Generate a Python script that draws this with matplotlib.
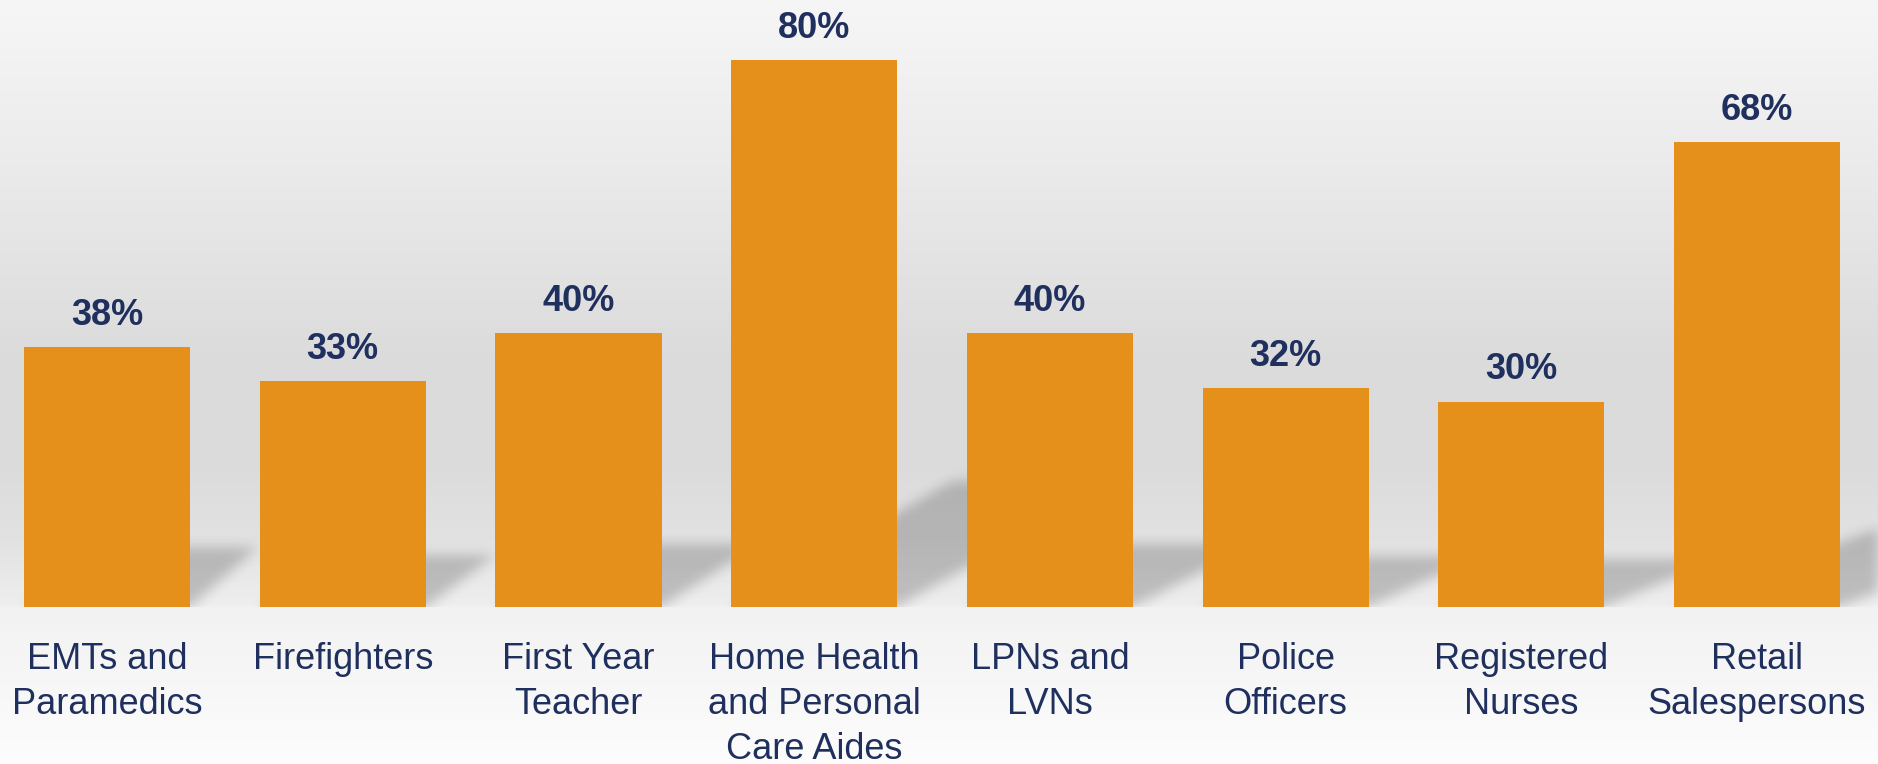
import numpy as np
import matplotlib
matplotlib.use('Agg')
import matplotlib.pyplot as plt


# Data
categories = ['EMTs and\nParamedics', 'Firefighters', 'First Year\nTeacher',
              'Home Health\nand Personal\nCare Aides', 'LPNs and\nLVNs',
              'Police\nOfficers', 'Registered\nNurses', 'Retail\nSalespersons']
values = [38, 33, 40, 80, 40, 32, 30, 68]

BAR = '#E5901A'
NAVY = '#1F2F5E'
W, H = 1878, 764

fig = plt.figure(figsize=(W / 100, H / 100), dpi=100)

# Background: wall gradient + lighter floor
stops_px = [0, 150, 350, 460, 540, 604, 608, 700, 764]
stops_gray = [246, 236, 220, 219, 226, 238, 242, 248, 253]
rows = np.interp(np.arange(H), stops_px, stops_gray) / 255.0
grad = np.repeat(rows[:, None, None], 3, axis=2)
bg = fig.add_axes([0, 0, 1, 1], zorder=-10)
bg.imshow(grad, aspect='auto', extent=[0, 1, 0, 1])
bg.axis('off')

# Main axes
ax = fig.add_axes([0, 0.2055, 1, 0.7876])
ax.patch.set_visible(False)
xlim = (-0.454, 7.513)
ylim = (0, 88)
ax.set_xlim(*xlim)
ax.set_ylim(*ylim)
for s in ax.spines.values():
    s.set_visible(False)
ax.set_yticks([])

x = np.arange(len(values))
width = 0.705

# Soft perspective shadows behind the bars
nx, ny = W, 602
gx = np.linspace(xlim[0], xlim[1], nx)
gy = np.linspace(ylim[0], ylim[1], ny)
XX, YY = np.meshgrid(gx, gy)
mask = np.zeros_like(XX)
px_per_x = W / (xlim[1] - xlim[0])
px_per_y = ny / (ylim[1] - ylim[0])
for i, v in zip(x, values):
    sh = 0.23 * v
    hpx = v * px_per_y
    d = (0.26 + 0.0486 * i) * hpx / px_per_x
    t = np.clip(YY / sh, 0, 1)
    inside = (YY >= 0) & (YY <= sh) & \
        (XX >= i - width / 2 + t * d) & (XX <= i + width / 2 + t * d)
    mask[inside] = 1.0

sig = 6.0
k = np.arange(-20, 21)
kern = np.exp(-k ** 2 / (2 * sig ** 2))
kern /= kern.sum()
mask = np.apply_along_axis(lambda r: np.convolve(r, kern, mode='same'), 1, mask)
mask = np.apply_along_axis(lambda c: np.convolve(c, kern, mode='same'), 0, mask)
shadow = np.zeros((ny, nx, 4))
shadow[..., 3] = mask * 0.2
ax.imshow(shadow, origin='lower', aspect='auto',
          extent=[xlim[0], xlim[1], ylim[0], ylim[1]], zorder=1)

ax.bar(x, values, width=width, color=BAR, zorder=3)

for i, v in zip(x, values):
    ax.annotate(f'{v}%', (i, v), xytext=(0, 23), textcoords='offset points',
                ha='center', va='center', fontsize=26, fontweight='bold',
                color=NAVY, zorder=4,
                family=['Liberation Sans Narrow', 'Liberation Sans', 'DejaVu Sans'])

ax.set_xticks(x)
ax.set_xticklabels(categories, fontsize=26, color=NAVY, linespacing=1.37,
                   family=['Liberation Sans', 'DejaVu Sans'])
ax.tick_params(axis='x', length=0, pad=25)
ax.set_xlim(*xlim)
ax.set_ylim(*ylim)

fig.savefig('out.png', dpi=100)
